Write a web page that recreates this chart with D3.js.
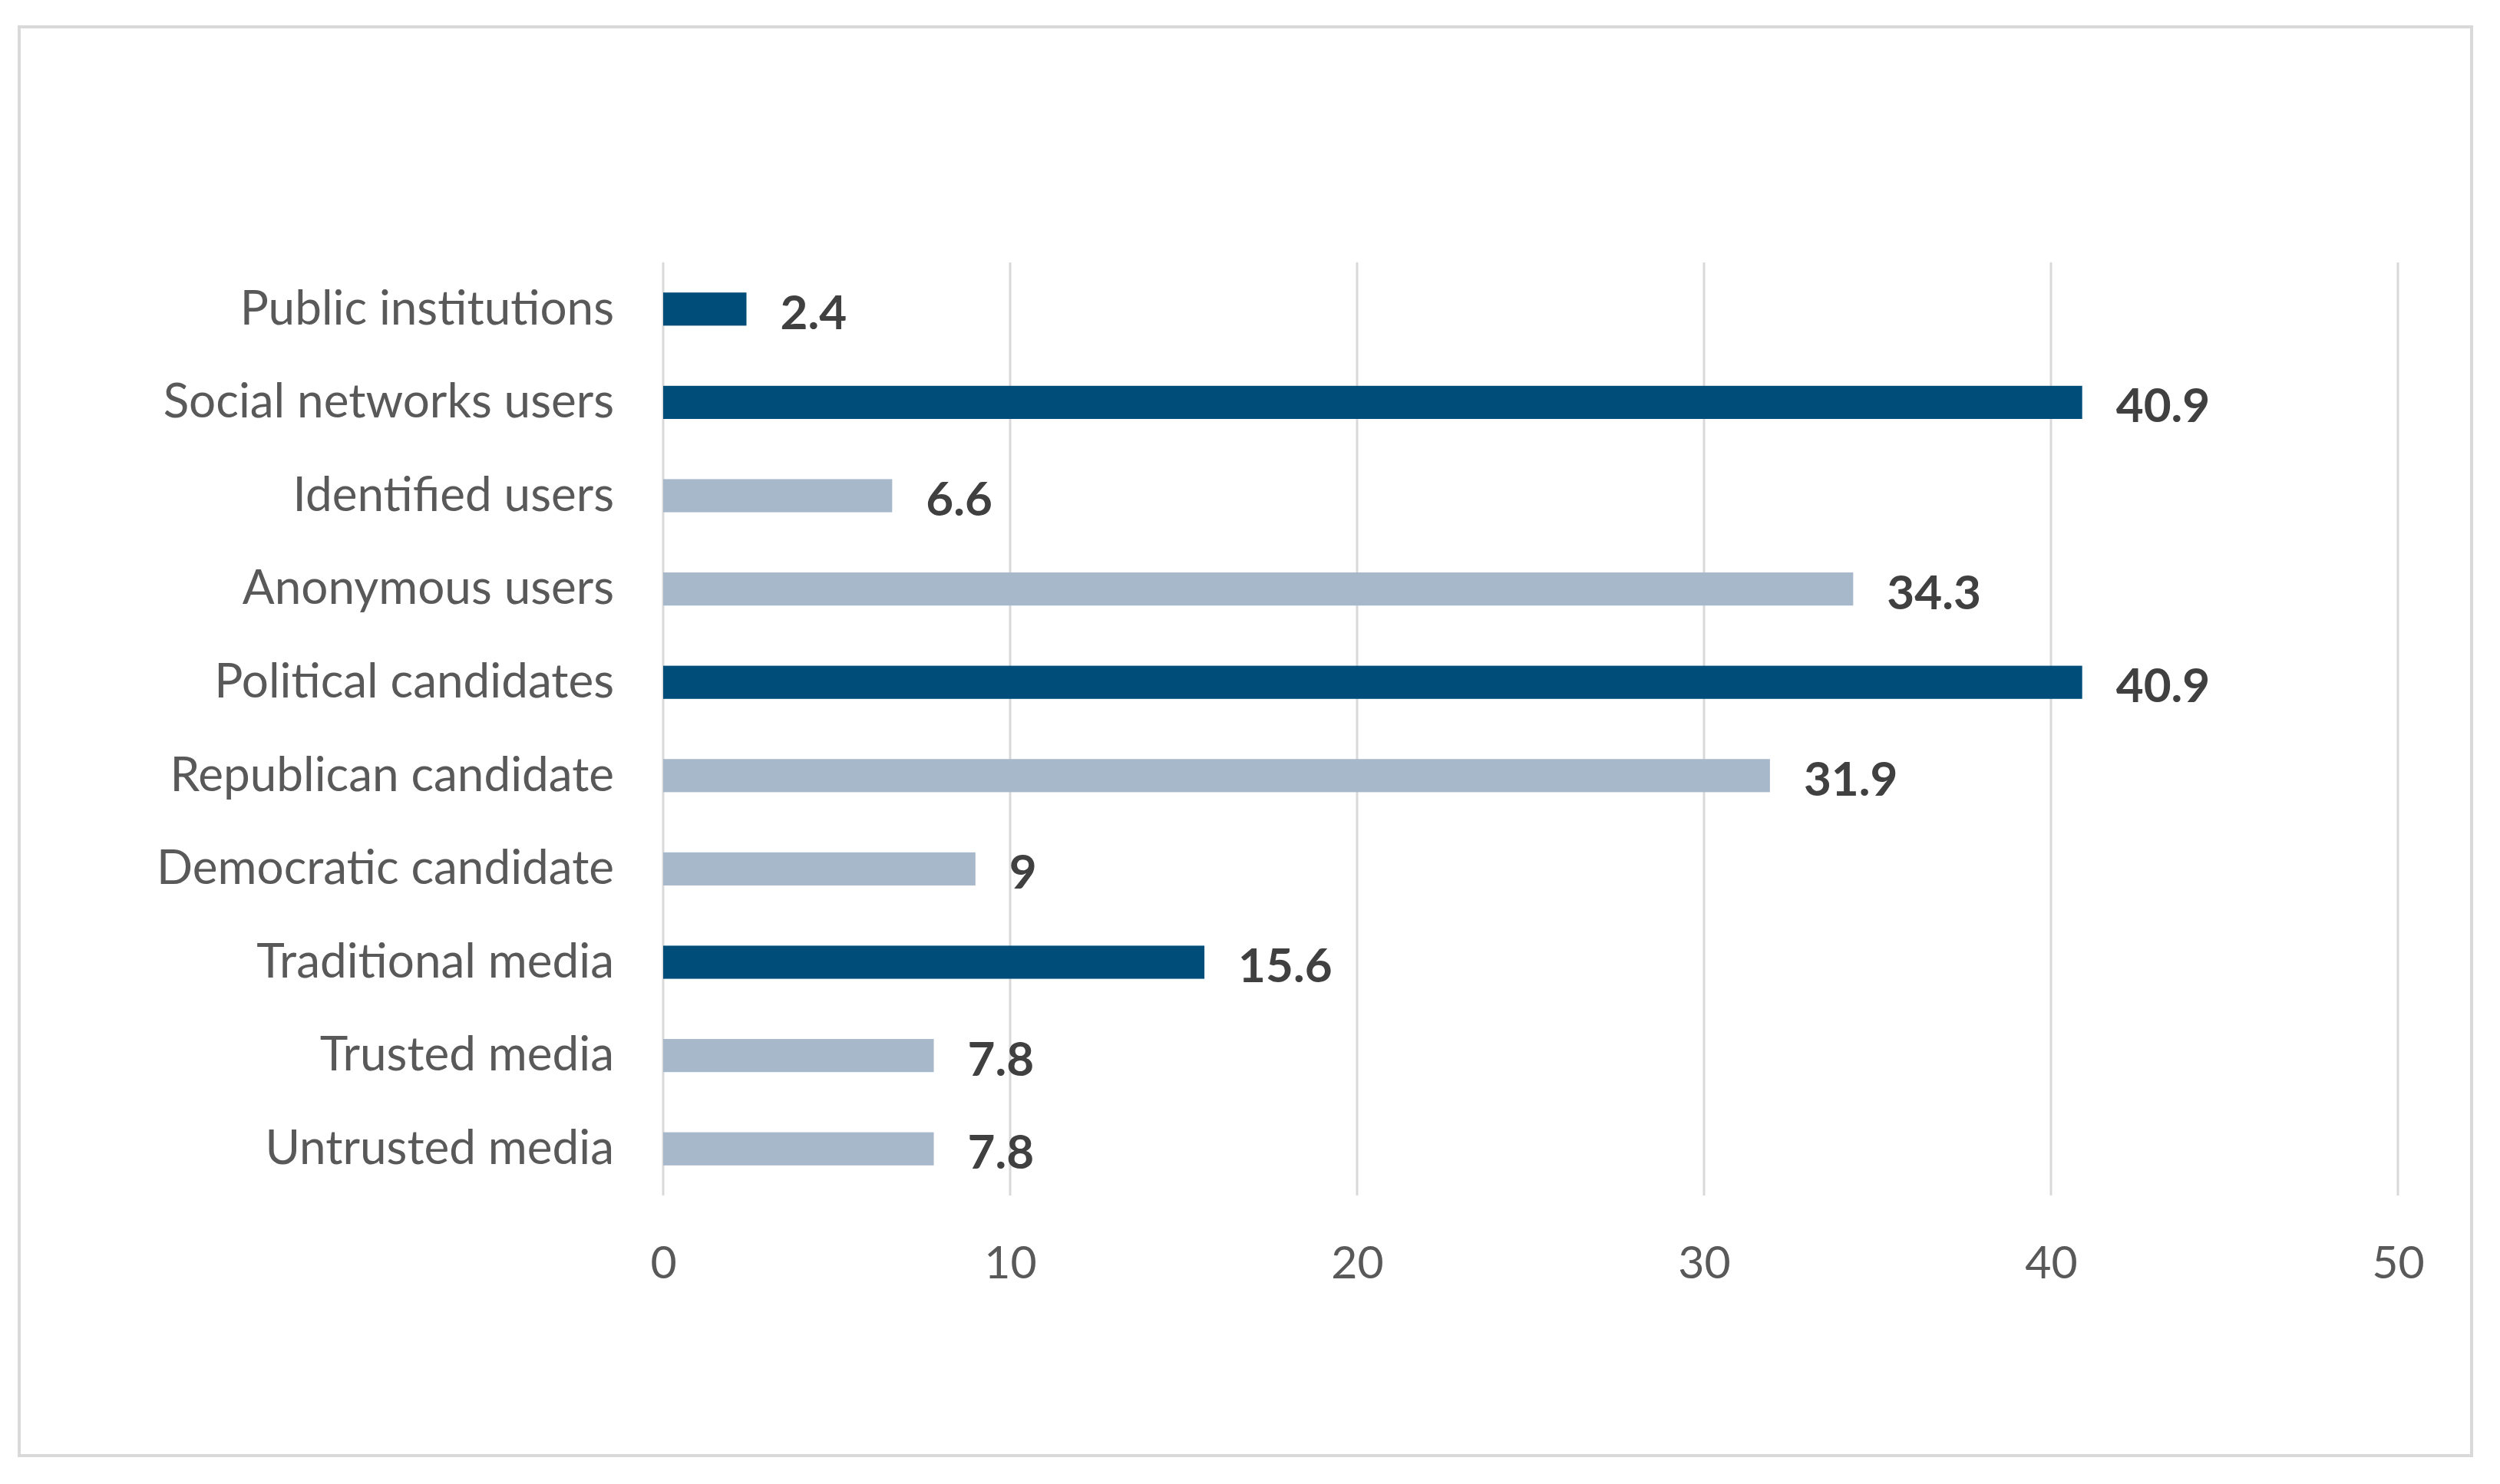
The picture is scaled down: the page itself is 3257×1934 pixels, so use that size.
<!DOCTYPE html>
<html>
<head>
<meta charset="utf-8">
<script src="https://cdn.jsdelivr.net/npm/d3@7"></script>
<style>
  body { margin: 0; background: #fff; }
  svg text { font-family: Lato, "Open Sans", sans-serif; }
</style>
</head>
<body>
<div id="chart"></div>
<script>
// Data, top to bottom as drawn
const categories = [
  'Public institutions',
  'Social networks users',
  'Identified users',
  'Anonymous users',
  'Political candidates',
  'Republican candidate',
  'Democratic candidate',
  'Traditional media',
  'Trusted media',
  'Untrusted media'
];
const values = [2.4, 40.9, 6.6, 34.3, 40.9, 31.9, 9, 15.6, 7.8, 7.8];
// group headers are shown in dark blue, sub-items in light blue
const isGroup = [true, true, false, false, true, false, false, true, false, false];
const xTicks = [0, 10, 20, 30, 40, 50];

const width = 3257, height = 1934;
const margin = { left: 864, right: 133, top: 342, bottom: 376 };

const svg = d3.select('#chart').append('svg')
    .attr('width', width)
    .attr('height', height);

// outer frame
svg.append('rect')
    .attr('x', 25).attr('y', 35)
    .attr('width', 3195).attr('height', 1862)
    .attr('fill', '#fff')
    .attr('stroke', '#d9d9d9')
    .attr('stroke-width', 4);

const x = d3.scaleLinear()
    .domain([0, 50])
    .range([margin.left, width - margin.right]);

const y = d3.scaleBand()
    .domain(categories)
    .range([margin.top, height - margin.bottom])
    .paddingInner(0.645)
    .paddingOuter(0.3225);

// vertical gridlines
svg.append('g')
    .selectAll('line')
    .data(xTicks)
    .enter()
    .append('line')
    .attr('x1', d => x(d)).attr('x2', d => x(d))
    .attr('y1', margin.top).attr('y2', height - margin.bottom)
    .attr('stroke', '#d9d9d9')
    .attr('stroke-width', 3);

// x axis labels
const xAxis = d3.axisBottom(x).tickValues(xTicks).tickSize(0).tickPadding(66);
const gx = svg.append('g')
    .attr('transform', `translate(0,${height - margin.bottom})`)
    .call(xAxis);
gx.select('.domain').remove();
gx.selectAll('text')
    .attr('font-size', 59)
    .attr('fill', '#595959')
    .style('font-family', 'Lato, sans-serif');

// category labels
const yAxis = d3.axisLeft(y).tickSize(0).tickPadding(64);
const gy = svg.append('g')
    .attr('transform', `translate(${margin.left},0)`)
    .call(yAxis);
gy.select('.domain').remove();
gy.selectAll('text')
    .attr('font-size', 62)
    .attr('fill', '#595959')
    .style('font-family', 'Lato, sans-serif');

// bars
svg.append('g')
    .selectAll('rect')
    .data(categories)
    .enter()
    .append('rect')
    .attr('x', x(0))
    .attr('y', d => y(d))
    .attr('width', (d, i) => x(values[i]) - x(0))
    .attr('height', y.bandwidth())
    .attr('fill', (d, i) => isGroup[i] ? '#004d7a' : '#a8b8cb');

// value labels
svg.append('g')
    .selectAll('text')
    .data(categories)
    .enter()
    .append('text')
    .attr('x', (d, i) => x(values[i]) + 44)
    .attr('y', d => y(d) + y.bandwidth() / 2)
    .attr('dy', '0.42em')
    .attr('font-size', 62)
    .attr('font-weight', 'bold')
    .attr('fill', '#404040')
    .text((d, i) => values[i]);
</script>
</body>
</html>
